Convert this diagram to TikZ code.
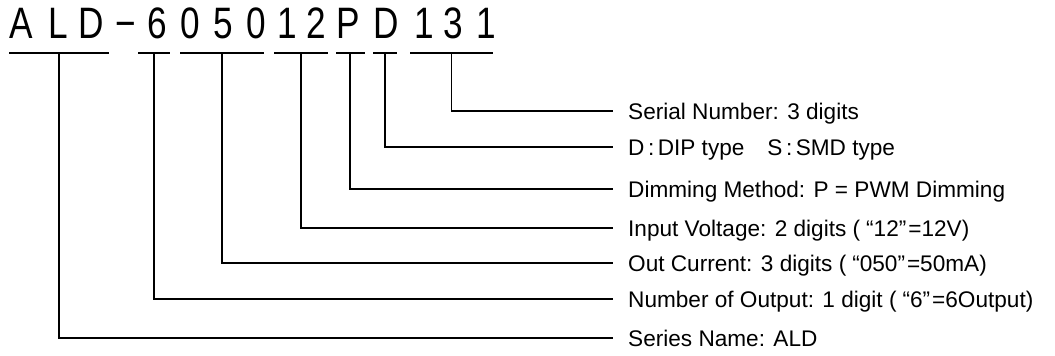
\documentclass[tikz,border=0pt]{standalone}
\usepackage{fontspec}
\setmainfont{Liberation Sans}
\begin{document}
\begin{tikzpicture}[x=1pt,y=-1pt,
  ch/.style={anchor=base,inner sep=0pt,font=\fontsize{44}{48}\selectfont},
  bar/.style={fill=black,draw=none,inner sep=0pt,minimum height=2pt},
  lab/.style={anchor=west,inner xsep=15pt,inner ysep=0pt,text height=16pt,text depth=0pt,font=\fontsize{22.6}{26}\selectfont},
  conn/.style={draw=black,line width=1.6pt}]
\useasboundingbox (0,0) rectangle (1055,356);
% title characters
\newcommand\sq[1]{\scalebox{0.8}[1]{#1}}
\newcommand\oq{\hspace{6pt}“}
\newcommand\cq{”\hspace{2pt}}
\node[ch] (c1)  at (21.5,38)  {\sq{A}};
\node[ch] (c2)  at (58,38)    {\sq{L}};
\node[ch] (c3)  at (91.5,38)  {\sq{D}};
\node[ch] (c4)  at (126,38)   {\sq{−}};
\node[ch] (c5)  at (157,38)   {\sq{6}};
\node[ch] (c6)  at (190,38)   {\sq{0}};
\node[ch] (c7)  at (223.5,38) {\sq{5}};
\node[ch] (c8)  at (256,38)   {\sq{0}};
\node[ch] (c9)  at (287.5,38) {\sq{1}};
\node[ch] (c10) at (316.5,38) {\sq{2}};
\node[ch] (c11) at (348,38)   {\sq{P}};
\node[ch] (c12) at (386.5,38) {\sq{D}};
\node[ch] (c13) at (424,38)   {\sq{1}};
\node[ch] (c14) at (453.5,38) {\sq{3}};
\node[ch] (c15) at (486,38)   {\sq{1}};
% underline bars
\node[bar,minimum width=100pt] (g1) at (59,53)  {};
\node[bar,minimum width=32pt]  (g2) at (154,53) {};
\node[bar,minimum width=84pt]  (g3) at (222,53) {};
\node[bar,minimum width=54pt]  (g4) at (301,53) {};
\node[bar,minimum width=29pt]  (g5) at (350,53) {};
\node[bar,minimum width=24pt]  (g6) at (385,53) {};
\node[bar,minimum width=83pt]  (g7) at (451.5,53) {};
% labels
\node[lab] (l7) at (613,111) {Serial Number: 3 digits};
\node[lab] (l6) at (613,147) {D\hspace{3.5pt}:\hspace{3.5pt}DIP type\hspace{23pt}S\hspace{3.5pt}:\hspace{3.5pt}SMD type};
\node[lab] (l5) at (613,189) {Dimming Method: P = PWM Dimming};
\node[lab] (l4) at (613,228) {Input Voltage: 2 digits (\oq12\cq=12V)};
\node[lab] (l3) at (613,263) {Out Current: 3 digits (\oq050\cq=50mA)};
\node[lab] (l2) at (613,299) {Number of Output: 1 digit (\oq6\cq=6Output)};
\node[lab] (l1) at (613,338) {Series Name: ALD};
% connectors
\draw[conn] (g7.south) |- (l7.west);
\draw[conn] (g6.south) |- (l6.west);
\draw[conn] (g5.south) |- (l5.west);
\draw[conn] (g4.south) |- (l4.west);
\draw[conn] (g3.south) |- (l3.west);
\draw[conn] (g2.south) |- (l2.west);
\draw[conn] (g1.south) |- (l1.west);
\end{tikzpicture}
\end{document}
